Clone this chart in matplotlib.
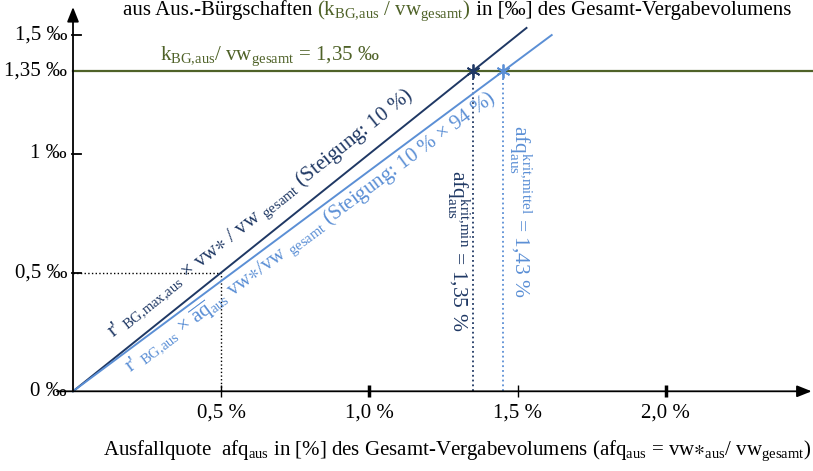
import math
import matplotlib
matplotlib.use("Agg")
import matplotlib.pyplot as plt

plt.rcParams['font.family'] = ['Liberation Serif', 'DejaVu Serif']
plt.rcParams['mathtext.fontset'] = 'custom'
plt.rcParams['mathtext.rm'] = 'Liberation Serif'
plt.rcParams['mathtext.it'] = 'Liberation Serif:italic'
plt.rcParams['mathtext.bf'] = 'Liberation Serif:bold'
plt.rcParams['mathtext.fallback'] = 'stix'

DARK = '#1f3864'
LIGHT = '#5b8fd5'
GREEN = '#4f6228'

# x in [%], y in [‰]
x_ticks = [0.5, 1.0, 1.5, 2.0]
x_tick_labels = ['0,5 %', '1,0 %', '1,5 %', '2,0 %']
y_ticks = [0, 0.5, 1.0, 1.35, 1.5]
y_tick_labels = ['0 ‰', '0,5 ‰', '1 ‰', '1,35 ‰', '1,5 ‰']

max_line_x = [0, 1.53]      # Steigung 10 %
max_line_y = [0, 1.53]
mean_line_x = [0, 1.615]    # Steigung 10 % x 94 %
mean_line_y = [0, 1.50]
threshold = 1.35            # k_BG,aus / vw_gesamt
crit_x = [1.35, 1.45]       # afq krit,min / krit,mittel
ref_point = [0.5, 0.5]

fig = plt.figure(figsize=(8.13, 4.71), dpi=100)
ax = fig.add_axes([0, 0, 1, 1])
ax.set_xlim(-0.2463, 2.4966)
ax.set_ylim(-0.3356, 1.6476)
ax.axis('off')

# axes with arrows
arrow = dict(arrowstyle='-|>,head_length=0.55,head_width=0.22', color='black',
             lw=1.3, mutation_scale=16, shrinkA=0, shrinkB=0)
ax.annotate('', xy=(2.492, 0), xytext=(-0.054, 0), arrowprops=arrow)
ax.annotate('', xy=(0, 1.618), xytext=(0, 0), arrowprops=arrow)

for x, lab in zip(x_ticks, x_tick_labels):
    lw = 2.5 if x in (1.0, 2.0) else 1.0
    ax.plot([x, x], [-0.025, 0.027], color='black', lw=lw, solid_capstyle='butt')
    ax.text(x, -0.05, lab, ha='center', va='top', fontsize=15)

for y, lab in zip(y_ticks, y_tick_labels):
    if y not in (0, threshold):
        ax.plot([-0.004, 0.027], [y, y], color='black', lw=1.3)
    ax.text(-0.02, y, lab, ha='right', va='center', fontsize=15)

# threshold line
ax.plot([0, 2.4966], [threshold, threshold], color=GREEN, lw=1.6)
ax.text(0.2935, 1.395, r'k$_{\mathrm{BG{,}aus}}$/ vw$_{\mathrm{gesamt}}$ = 1,35 ‰',
        color=GREEN, fontsize=15, ha='left', va='baseline')

# dotted helper lines
ax.plot([0, ref_point[0]], [ref_point[1], ref_point[1]], color='black', ls=':', lw=1)
ax.plot([ref_point[0], ref_point[0]], [0, ref_point[1]], color='black', ls=':', lw=1)
ax.plot([crit_x[0], crit_x[0]], [0, threshold], color=DARK, ls=':', lw=1.3)
ax.plot([crit_x[1], crit_x[1]], [0, threshold], color=LIGHT, ls=':', lw=1.3)

# the two lines
ax.plot(max_line_x, max_line_y, color=DARK, lw=1.4)
ax.plot(mean_line_x, mean_line_y, color=LIGHT, lw=1.4)
ax.plot(crit_x[0], threshold, marker=(6, 2, 0), color=DARK, ms=10, mew=1.3)
ax.plot(crit_x[1], threshold, marker=(6, 2, 0), color=LIGHT, ms=10, mew=1.3)


def angle_of(xs, ys):
    p0 = ax.transData.transform((xs[0], ys[0]))
    p1 = ax.transData.transform((xs[1], ys[1]))
    return math.degrees(math.atan2(p1[1] - p0[1], p1[0] - p0[0]))


ax.text(0.135, 0.224,
        r"r' ${}_{\mathrm{BG{,}max{,}aus}}$ × vw$\ast$ / vw ${}_{\mathrm{gesamt}}$ (Steigung: 10 %)",
        rotation=angle_of(max_line_x, max_line_y), rotation_mode='anchor',
        ha='left', va='baseline', color=DARK, fontsize=15)
ax.text(0.192, 0.077,
        r"r' ${}_{\mathrm{BG{,}aus}}$ × $\overline{\mathrm{aq}}_{\mathrm{aus}}$ vw$\ast$/vw ${}_{\mathrm{gesamt}}$ (Steigung: 10 % × 94 %)",
        rotation=angle_of(mean_line_x, mean_line_y), rotation_mode='anchor',
        ha='left', va='baseline', color=LIGHT, fontsize=15)

ax.text(1.279, 0.932, r'afq$_{\mathrm{aus}}^{\mathrm{krit{,}min}}$ = 1,35 %',
        rotation=-90, rotation_mode='anchor', ha='left', va='baseline',
        color=DARK, fontsize=15.5)
ax.text(1.488, 1.121, r'afq$_{\mathrm{aus}}^{\mathrm{krit{,}mittel}}$ = 1,43 %',
        rotation=-90, rotation_mode='anchor', ha='left', va='baseline',
        color=LIGHT, fontsize=15.5)

# x axis title
ax.text(0.101, -0.268,
        r'Ausfallquote  afq$_{\mathrm{aus}}$ in [%] des Gesamt-Vergabevolumens '
        r'(afq$_{\mathrm{aus}}$ = vw$\ast_{\mathrm{aus}}$/ vw$_{\mathrm{gesamt}}$)',
        ha='left', va='baseline', fontsize=15)

# y axis title (cut at the top, as in the source), mixed colours
renderer = fig.canvas.get_renderer()
x0 = 0.168
px_per_unit = ax.transData.transform((1, 0))[0] - ax.transData.transform((0, 0))[0]
for part, col in [('aus Aus.-Bürgschaften ', 'black'),
                  (r'(k$_{\mathrm{BG{,}aus}}$ / vw$_{\mathrm{gesamt}}$)', GREEN),
                  (' in [‰] des Gesamt-Vergabevolumens', 'black')]:
    t = ax.text(x0, 1.585, part, color=col, fontsize=15, ha='left', va='baseline')
    x0 += t.get_window_extent(renderer).width / px_per_unit

fig.savefig('out.png', dpi=100)
